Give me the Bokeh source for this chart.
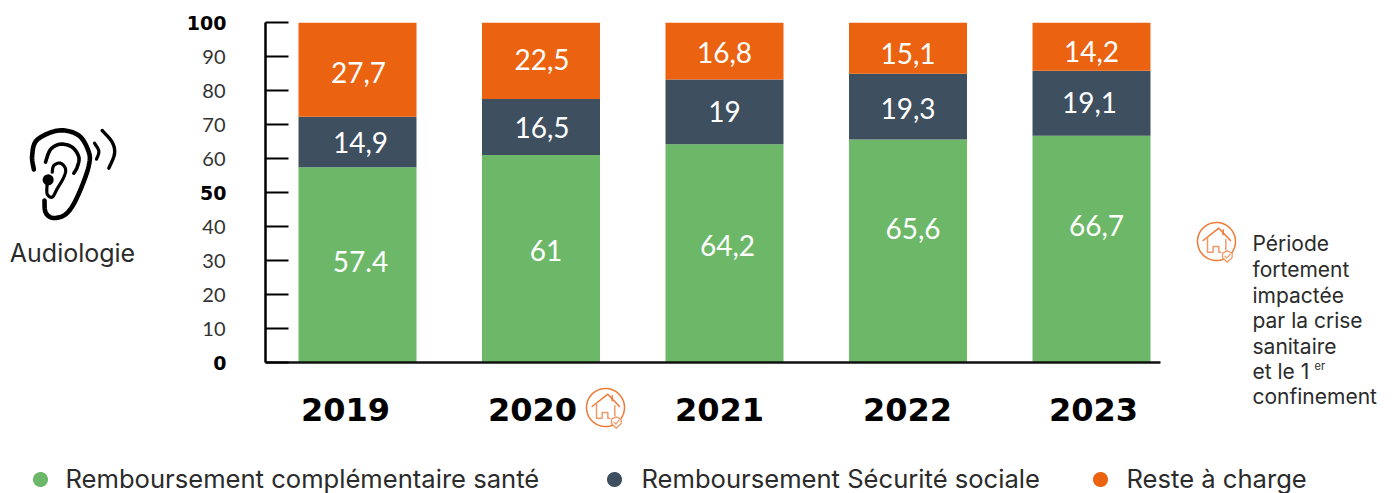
from bokeh.plotting import figure
from bokeh.models import FixedTicker, ColumnDataSource, Range1d
from bokeh.embed import file_html
from bokeh.resources import INLINE
from bokeh.core.properties import value
import numpy as np

years = [2019, 2020, 2021, 2022, 2023]
complementaire = [57.4, 61, 64.2, 65.6, 66.7]
secu = [14.9, 16.5, 19, 19.3, 19.1]
reste = [27.7, 22.5, 16.8, 15.1, 14.2]
lab_comp = ["57.4", "61", "64,2", "65,6", "66,7"]
lab_secu = ["14,9", "16,5", "19", "19,3", "19,1"]
lab_reste = ["27,7", "22,5", "16,8", "15,1", "14,2"]
legend_names = ["Remboursement complémentaire santé", "Remboursement Sécurité sociale", "Reste à charge"]
note_lines = ["Période", "fortement", "impactée", "par la crise", "sanitaire", "et le 1", "confinement"]
y_ticks = list(range(0, 101, 10))
bold_ticks = [0, 50, 100]

GREEN, NAVY, ORANGE = "#6cb868", "#3e4f5f", "#eb6311"
FONT = "Lato"
BODY = "Inter"
W, H = 1397, 493
PX_YEAR, PX_UNIT = 183.5, 3.4
X0, Y0 = 357, 362
FL, FR, FT = 265, 1160, 22

def dx(px): return 2019 + (np.asarray(px, float) - X0) / PX_YEAR
def dy(py): return (Y0 - np.asarray(py, float)) / PX_UNIT

p = figure(width=W, height=H, output_backend="svg", toolbar_location=None,
           x_range=Range1d(float(dx(FL)), float(dx(FR))), y_range=Range1d(0, 100),
           min_border_left=FL, min_border_right=W - FR, min_border_top=FT,
           min_border_bottom=H - Y0, outline_line_color=None, background_fill_color=None)
p.grid.visible = False

# x axis
label_centers = [345, 532, 719, 907, 1093]
pos = [float(dx(c)) for c in label_centers]
xa = p.xaxis[0]
xa.ticker = FixedTicker(ticks=pos)
xa.major_label_overrides = {t: str(y) for t, y in zip(pos, years)}
xa.major_tick_line_color = None
xa.minor_tick_line_color = None
xa.axis_line_color = "#111111"
xa.axis_line_width = 2.5
xa.major_label_text_font = "DejaVu Sans"
xa.major_label_text_font_style = "bold"
xa.major_label_text_font_size = "32px"
xa.major_label_text_color = "#000000"
xa.major_label_standoff = 29

# y axis
ya = p.yaxis[0]
ya.ticker = FixedTicker(ticks=y_ticks)
ya.major_label_overrides = {t: ("" if t in bold_ticks else str(t)) for t in y_ticks}
ya.minor_tick_line_color = None
ya.major_tick_in = 23
ya.major_tick_out = 0
ya.major_tick_line_color = "#000000"
ya.major_tick_line_width = 2
ya.axis_line_color = "#000000"
ya.axis_line_width = 2.5
ya.major_label_text_font = FONT
ya.major_label_text_font_size = "20px"
ya.major_label_text_color = "#333333"
ya.major_label_standoff = 40

def label(px, py, text, size, color="#2b2b2b", align="left", font=BODY, style="normal"):
    p.text(x=[float(dx(px))], y=[float(dy(py))], text=[text], level="overlay", text_font_size=f"{size}px",
           text_color=color, text_align=align, text_baseline="middle", text_font=value(font),
           text_font_style=style)

def stroke(pts, color, width):
    pts = np.array(pts, float)
    p.line(x=dx(pts[:, 0]), y=dy(pts[:, 1]), line_color=color, line_width=width, level="overlay",
           line_cap="round", line_join="round")

def fill(xs, ys, color, **kw):
    p.patch(x=dx(xs), y=dy(ys), fill_color=color, level="overlay", **kw)

for t in bold_ticks:
    label(226, Y0 - t * PX_UNIT, str(t), 19, color="#000000", align="right", font="DejaVu Sans", style="bold")

# stacked bars
src = ColumnDataSource(dict(year=years, c=complementaire, s=secu, r=reste))
p.vbar_stack(["c", "s", "r"], x="year", width=118 / PX_YEAR, color=[GREEN, NAVY, ORANGE],
             line_color=None, source=src)

# value labels
c = np.array(complementaire); s = np.array(secu); r = np.array(reste)
xoff = {0: [3, 5, 3, 5, 5], 1: [3, 1, 0, 0, -2], 2: [1, 1, 0, 0, 0]}
yoff = {0: [-3, -8, -8, -22, -24], 1: [0, 0, 0, 2, -1], 2: [3, -1, 1, 5, 5]}
centers = [c / 2, c + s / 2, c + s + r / 2]
for i, labs in enumerate([lab_comp, lab_secu, lab_reste]):
    src_t = ColumnDataSource(dict(x=years, y=centers[i], t=labs, xo=xoff[i], yo=yoff[i]))
    p.text(x="x", y="y", text="t", source=src_t, x_offset="xo", y_offset="yo", text_color="#ffffff",
           text_font=value(FONT), text_font_size="28px", text_align="center", text_baseline="middle")

label(72, 252, "Audiologie", 25, align="center")
for ln, py in zip(note_lines, [243, 269, 295, 320, 346, 371, 396]):
    label(1252, py, ln, 21)
label(1314, 365, "er", 11)

# legend
for cx, name, col, tx in zip([40, 614, 1100], legend_names, [GREEN, NAVY, ORANGE], [65, 641, 1126]):
    label(tx, 478, name, 25.6)
    t = np.linspace(0, 2 * np.pi, 40)
    fill(cx + 7.5 * np.cos(t), 479 + 7.5 * np.sin(t), col, line_color=None)

# icons
def smooth(pts, n=10):
    pts = np.array(pts, float)
    P = np.vstack([pts[0], pts, pts[-1]])
    out = []
    for i in range(1, len(P) - 2):
        for u in np.linspace(0, 1, n, endpoint=False):
            a = 2 * P[i] + (P[i + 1] - P[i - 1]) * u + (2 * P[i - 1] - 5 * P[i] + 4 * P[i + 1] - P[i + 2]) * u**2 \
                + (-P[i - 1] + 3 * P[i] - 3 * P[i + 1] + P[i + 2]) * u**3
            out.append(a / 2)
    out.append(pts[-1])
    return np.array(out)

def ear():
    o = np.array([0, 100.0])
    zoomed = [
        ([(100, 207), (95, 165), (110, 118), (175, 90), (235, 105), (265, 155), (265, 195), (245, 255),
          (217, 315), (190, 345), (155, 352), (135, 335), (132, 300)], 4.6),
        ([(135, 185), (150, 147), (180, 131), (215, 140), (235, 170), (230, 200), (220, 218)], 3.6),
        ([(155, 215), (160, 195), (180, 188), (195, 205), (190, 230), (170, 265), (155, 290), (140, 280), (140, 250)], 3.2),
        ([(282, 128), (295, 152), (288, 176)], 3.2),
        ([(305, 90), (335, 125), (342, 160), (325, 203)], 3.4),
    ]
    for pts, w in zoomed:
        stroke(smooth(np.array(pts) / 3 + o), "#000000", w)
    t = np.linspace(0, 2 * np.pi, 30)
    fill(143 / 3 + 5.5 * np.cos(t), 100 + 238 / 3 + 5.5 * np.sin(t), "#000000", line_color=None)

def house(cx, cy):
    col, col2 = "#ee7a35", "#f09a68"
    t = np.linspace(0, 2 * np.pi, 60)
    stroke(np.c_[cx + 19 * np.cos(t), cy + 19 * np.sin(t)], col, 1.5)
    z = lambda pts: np.array(pts, float) / 3 + [cx, cy]
    stroke(z([(-40, -3), (7, -40), (42, -3)]), col, 1.5)
    stroke(z([(20, -35), (20, -20)]), col, 1.5)
    stroke(z([(-27, -12), (-27, 32), (-10, 32), (-10, 15), (7, 15), (7, 32), (13, 32)]), col2, 1.5)
    stroke(z([(28, -5), (28, 25)]), col2, 1.5)
    sh = z([(18, 35), (32, 28), (47, 35), (47, 48), (32, 62), (18, 48), (18, 35)])
    fill(sh[:, 0], sh[:, 1], "#ffffff", line_color=col2, line_width=1.3)
    stroke(z([(25, 44), (31, 50), (41, 38)]), col2, 1.2)

ear()
house(605, 407)
house(1216, 241)

open("out.html", "w").write(file_html(p, INLINE))
